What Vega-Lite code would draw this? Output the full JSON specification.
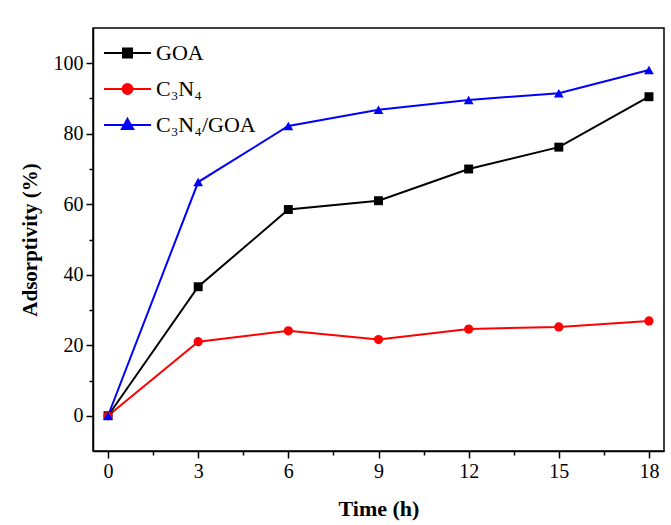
{
  "$schema": "https://vega.github.io/schema/vega-lite/v6.json",
  "autosize": {"type": "none"},
  "padding": {"left": 93, "top": 28, "right": 7, "bottom": 74},
  "width": 571,
  "height": 423,
  "background": "white",
  "config": {
    "font": "Liberation Serif",
    "view": {"stroke": "black", "strokeWidth": 1.5}
  },
  "data": {
    "values": [
      {"s": "GOA", "t": 0, "v": 0},
      {"s": "GOA", "t": 3, "v": 36.6},
      {"s": "GOA", "t": 6, "v": 58.5},
      {"s": "GOA", "t": 9, "v": 61.0},
      {"s": "GOA", "t": 12, "v": 70.0},
      {"s": "GOA", "t": 15, "v": 76.2},
      {"s": "GOA", "t": 18, "v": 90.5},
      {"s": "C₃N₄", "t": 0, "v": 0},
      {"s": "C₃N₄", "t": 3, "v": 21.0},
      {"s": "C₃N₄", "t": 6, "v": 24.1},
      {"s": "C₃N₄", "t": 9, "v": 21.6},
      {"s": "C₃N₄", "t": 12, "v": 24.6},
      {"s": "C₃N₄", "t": 15, "v": 25.2},
      {"s": "C₃N₄", "t": 18, "v": 26.9},
      {"s": "C₃N₄/GOA", "t": 0, "v": 0},
      {"s": "C₃N₄/GOA", "t": 3, "v": 66.3},
      {"s": "C₃N₄/GOA", "t": 6, "v": 82.2},
      {"s": "C₃N₄/GOA", "t": 9, "v": 86.8},
      {"s": "C₃N₄/GOA", "t": 12, "v": 89.6},
      {"s": "C₃N₄/GOA", "t": 15, "v": 91.5},
      {"s": "C₃N₄/GOA", "t": 18, "v": 98.1}
    ]
  },
  "encoding": {
    "x": {
      "field": "t", "type": "quantitative",
      "scale": {"domain": [-0.5, 18.5], "nice": false, "zero": false},
      "axis": {
        "title": "Time (h)",
        "values": [0, 1.5, 3, 4.5, 6, 7.5, 9, 10.5, 12, 13.5, 15, 16.5, 18],
        "labelExpr": "datum.value % 3 === 0 ? datum.label : ''",
        "tickSize": {"condition": {"test": "datum.value % 3 === 0", "value": 7}, "value": 4},
        "grid": false,
        "domainColor": "black", "domainWidth": 1.5,
        "tickColor": "black", "tickWidth": 1.5,
        "labelColor": "black", "labelFontSize": 20, "labelPadding": 3,
        "titleColor": "black", "titleFontSize": 22, "titleFontWeight": "bold", "titlePadding": 17
      }
    },
    "y": {
      "field": "v", "type": "quantitative",
      "scale": {"domain": [-10, 110], "nice": false, "zero": false},
      "axis": {
        "title": "Adsorptivity (%)",
        "values": [0, 10, 20, 30, 40, 50, 60, 70, 80, 90, 100],
        "labelExpr": "datum.value % 20 === 0 ? datum.label : ''",
        "tickSize": {"condition": {"test": "datum.value % 20 === 0", "value": 7}, "value": 4},
        "grid": false,
        "domainColor": "black", "domainWidth": 1.5,
        "tickColor": "black", "tickWidth": 1.5,
        "labelColor": "black", "labelFontSize": 20, "labelPadding": 3,
        "titleColor": "black", "titleFontSize": 21, "titleFontWeight": "bold", "titlePadding": 13
      }
    }
  },
  "layer": [
    {
      "mark": {"type": "line", "strokeWidth": 2},
      "encoding": {
        "color": {
          "field": "s", "type": "nominal",
          "scale": {"domain": ["GOA", "C₃N₄", "C₃N₄/GOA"], "range": ["#000000", "#ff0000", "#0000ff"]},
          "legend": {
            "title": null,
            "orient": "none",
            "legendX": 10,
            "legendY": 0.5,
            "symbolSize": 2209,
            "labelFont": "Liberation Serif",
            "labelFontSize": 22,
            "labelColor": "black",
            "labelOffset": 4,
            "rowPadding": 0,
            "encode": {
              "symbols": {
                "update": {
                  "fill": {"scale": "color", "field": "value"},
                  "stroke": {"scale": "color", "field": "value"},
                  "opacity": {"value": 1},
                  "strokeWidth": {"value": 2}
                }
              }
            }
          }
        }
      }
    },
    {
      "transform": [{"filter": "datum.s === 'GOA'"}],
      "mark": {"type": "point", "shape": "square", "filled": true, "size": 80, "opacity": 1, "color": "#000000"}
    },
    {
      "transform": [{"filter": "datum.s === 'C₃N₄'"}],
      "mark": {"type": "point", "shape": "circle", "filled": true, "size": 85, "opacity": 1, "color": "#ff0000"}
    },
    {
      "transform": [{"filter": "datum.s === 'C₃N₄/GOA'"}],
      "mark": {"type": "point", "shape": "triangle-up", "filled": true, "size": 95, "opacity": 1, "color": "#0000ff"}
    },
    {
      "mark": {"type": "point", "filled": true, "opacity": 0, "size": 2209},
      "encoding": {
        "color": {"field": "s", "type": "nominal"},
        "shape": {
          "field": "s", "type": "nominal",
          "scale": {
            "domain": ["GOA", "C₃N₄", "C₃N₄/GOA"],
            "range": [
              "M-1,0H1M-0.19,-0.19H0.19V0.19H-0.19Z",
              "M-1,0H1M0.21,0A0.21,0.21 0 1,1 -0.21,0A0.21,0.21 0 1,1 0.21,0Z",
              "M-1,0H1M0,-0.26L0.24,0.17H-0.24Z"
            ]
          },
          "legend": {
            "title": null,
            "orient": "none",
            "legendX": 10,
            "legendY": 0.5,
            "symbolSize": 2209,
            "labelFont": "Liberation Serif",
            "labelFontSize": 22,
            "labelColor": "black",
            "labelOffset": 4,
            "rowPadding": 0
          }
        }
      }
    }
  ]
}
